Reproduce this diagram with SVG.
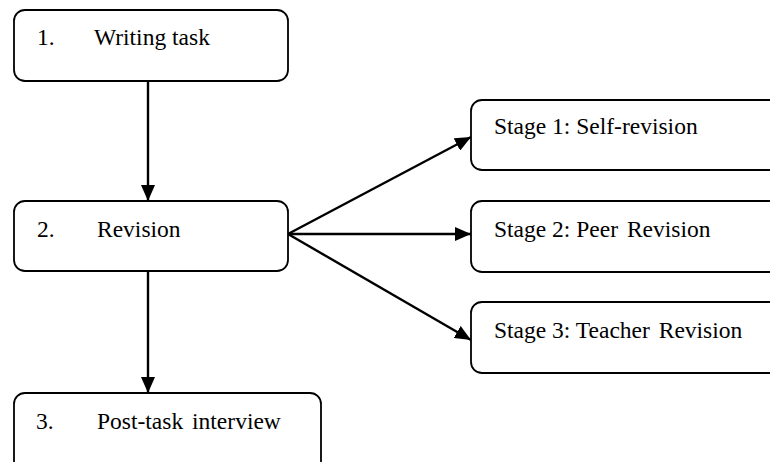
<svg xmlns="http://www.w3.org/2000/svg" width="770" height="462" viewBox="0 0 770 462">
<defs>
<marker id="ah" markerWidth="16" markerHeight="14" refX="16" refY="7" orient="auto" markerUnits="userSpaceOnUse">
<path d="M0,0 L16,7 L0,14 Z" fill="#000"/>
</marker>
<style>
.box{fill:#fff;stroke:#000;stroke-width:1.8}
.t{font-family:"Liberation Serif","Times New Roman",serif;font-size:23.5px;fill:#000}
.c{stroke:#000;stroke-width:2.4;fill:none;marker-end:url(#ah)}
</style>
</defs>
<rect width="770" height="462" fill="#fff"/>
<g id="connectors">
<line class="c" x1="148" y1="81" x2="148" y2="201"/>
<line class="c" x1="148" y1="271" x2="148" y2="393"/>
<line class="c" x1="288" y1="234" x2="471" y2="137"/>
<line class="c" x1="288" y1="234" x2="471" y2="234"/>
<line class="c" x1="288" y1="234" x2="471" y2="340"/>
</g>
<g id="n1">
<rect class="box" x="14" y="10" width="274" height="71" rx="11"/>
<text class="t" x="37" y="45">1.</text>
<text class="t" x="94" y="45">Writing task</text>
</g>
<g id="n2">
<rect class="box" x="14" y="201" width="274" height="70" rx="11"/>
<text class="t" x="37" y="237">2.</text>
<text class="t" x="97" y="237">Revision</text>
</g>
<g id="n3">
<rect class="box" x="14" y="393" width="307" height="80" rx="11"/>
<text class="t" x="36" y="429">3.</text>
<text class="t" x="97" y="429">Post-task <tspan dx="3">interview</tspan></text>
</g>
<g id="s1">
<rect class="box" x="471" y="100" width="320" height="70" rx="11"/>
<text class="t" x="494" y="134">Stage 1: Self-revision</text>
</g>
<g id="s2">
<rect class="box" x="471" y="201" width="320" height="71" rx="11"/>
<text class="t" x="494" y="237">Stage 2: Peer <tspan dx="3">Revision</tspan></text>
</g>
<g id="s3">
<rect class="box" x="471" y="302" width="320" height="71" rx="11"/>
<text class="t" x="494" y="338">Stage 3: Teacher <tspan dx="3">Revision</tspan></text>
</g>
</svg>
